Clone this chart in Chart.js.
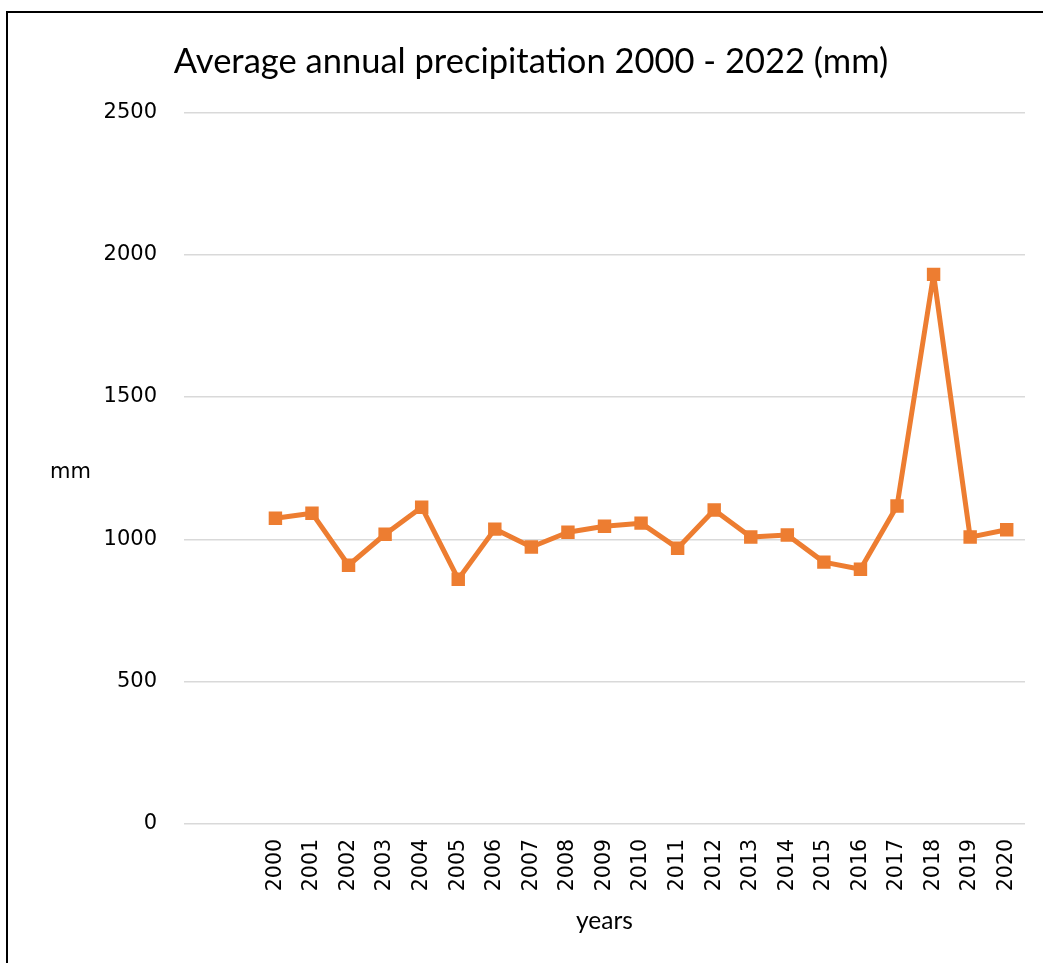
<!DOCTYPE html>
<html>
<head>
<meta charset="utf-8">
<script src="https://cdn.jsdelivr.net/npm/chart.js@4/dist/chart.umd.min.js"></script>
<style>
  html, body { margin: 0; padding: 0; background: #fff; overflow: hidden; }
  #box { position: absolute; left: 6px; top: 11px; width: 1060px; height: 980px; border: 2px solid #000; background: #fff; }
  #wrap { position: absolute; left: 0; top: 0; width: 1050px; height: 949px; }
</style>
</head>
<body>
<div id="box"><div id="wrap"><canvas id="c"></canvas></div></div>
<script>
const categories = ['', '', '2000', '2001', '2002', '2003', '2004', '2005', '2006', '2007', '2008', '2009', '2010', '2011', '2012', '2013', '2014', '2015', '2016', '2017', '2018', '2019', '2020'];
const precipitation = [null, null, 1074, 1092, 909, 1018, 1113, 860, 1036, 973, 1025, 1046, 1057, 969, 1103, 1008, 1015, 920, 895, 1117, 1931, 1008, 1034];
const yTicks = [0, 500, 1000, 1500, 2000, 2500];
const chartTitle = 'Average annual precipitation 2000 - 2022 (mm)';
const xTitle = 'years';
const yTitle = 'mm';

const yLabelPlugin = {
  id: 'yLabel',
  afterDraw(chart) {
    const ctx = chart.ctx;
    const a = chart.chartArea;
    ctx.save();
    ctx.font = '21px "DejaVu Sans"';
    ctx.fillStyle = '#000';
    ctx.textAlign = 'left';
    ctx.textBaseline = 'middle';
    ctx.fillText(yTitle, 42, (a.top + a.bottom) / 2 + 4);
    ctx.restore();
  }
};

new Chart(document.getElementById('c'), {
  type: 'line',
  data: {
    labels: categories,
    datasets: [{
      data: precipitation,
      borderColor: '#ED7D31',
      backgroundColor: '#ED7D31',
      borderWidth: 5,
      borderJoinStyle: 'bevel',
      pointStyle: 'rect',
      pointRadius: 9.5,
      pointHoverRadius: 9.5,
      pointBorderWidth: 0,
      tension: 0,
      spanGaps: false
    }]
  },
  options: {
    responsive: true,
    maintainAspectRatio: false,
    animation: false,
    events: [],
    layout: { padding: { left: 29, right: 33, top: 0, bottom: 0 } },
    plugins: {
      legend: { display: false },
      tooltip: { enabled: false },
      title: {
        display: true,
        text: chartTitle,
        color: '#000',
        font: { family: 'Lato', size: 34.5, weight: 'normal' },
        padding: { top: 28, bottom: 30 }
      }
    },
    scales: {
      x: {
        offset: true,
        afterFit(scale) { scale.height = 138; },
        grid: { display: false, drawTicks: false },
        border: { display: false },
        ticks: {
          color: '#000',
          font: { family: 'DejaVu Sans', size: 20.5 },
          minRotation: 90,
          maxRotation: 90,
          autoSkip: false,
          padding: 15
        },
        title: {
          display: true,
          text: xTitle,
          color: '#000',
          font: { family: 'Lato', size: 24.5 },
          padding: { top: 0, bottom: 26 }
        }
      },
      y: {
        min: 0,
        max: 2500,
        afterBuildTicks(scale) { scale.ticks = yTicks.map(v => ({ value: v })); },
        afterFit(scale) { scale.width = 147; },
        grid: { color: '#d9d9d9', lineWidth: 1.5, drawTicks: false },
        border: { display: false },
        ticks: {
          color: '#000',
          font: { family: 'DejaVu Sans', size: 21 },
          padding: 27,
          callback: (v) => String(v)
        }
      }
    }
  },
  plugins: [yLabelPlugin]
});
</script>
</body>
</html>
